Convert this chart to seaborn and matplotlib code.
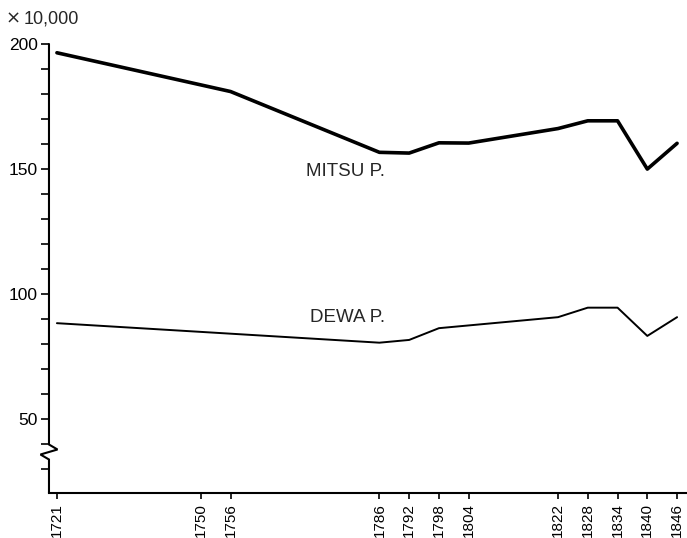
import matplotlib
matplotlib.use("Agg")
import matplotlib.pyplot as plt
import matplotlib.transforms as mtransforms
import pandas as pd
import seaborn as sns

# Population (units of 10,000 persons)
mitsu_years = [1721, 1756, 1786, 1792, 1798, 1804, 1822, 1828, 1834, 1840, 1846]
mitsu_pop = [196.5, 181.0, 156.7, 156.4, 160.5, 160.4, 166.2, 169.3, 169.3, 150.0, 160.3]

dewa_years = [1721, 1786, 1792, 1798, 1822, 1828, 1834, 1840, 1846]
dewa_pop = [88.4, 80.6, 81.7, 86.4, 90.8, 94.6, 94.6, 83.3, 90.8]

year_ticks = [1721, 1750, 1756, 1786, 1792, 1798, 1804, 1822, 1828, 1834, 1840, 1846]
major_yticks = [50, 100, 150, 200]
minor_yticks = [30, 40, 60, 70, 80, 90, 110, 120, 130, 140, 160, 170, 180, 190]

sns.set_style("ticks")
fonts = ["Liberation Sans Narrow", "Liberation Sans", "DejaVu Sans"]
plt.rcParams["font.family"] = fonts

mitsu = pd.DataFrame({"year": mitsu_years, "pop": mitsu_pop})
dewa = pd.DataFrame({"year": dewa_years, "pop": dewa_pop})

fig = plt.figure(figsize=(6.87, 5.38), dpi=100)
ax = fig.add_axes([0.0713, 0.0836, 0.9287, 0.8346])

sns.lineplot(data=mitsu, x="year", y="pop", ax=ax, color="black", linewidth=2.6)
sns.lineplot(data=dewa, x="year", y="pop", ax=ax, color="black", linewidth=1.4)

ax.set_xlim(1719.4, 1848.0)
ax.set_ylim(20.5, 200)

ax.set_xticks(year_ticks)
ax.set_xticklabels([str(y) for y in year_ticks], rotation=90, fontsize=11)
ax.set_yticks(major_yticks)
ax.set_yticklabels([str(v) for v in major_yticks], fontsize=12.5)
ax.set_yticks(minor_yticks, minor=True)

ax.tick_params(axis="x", direction="out", length=4, width=1.2, pad=3, colors="black")
ax.tick_params(axis="y", which="both", direction="out", length=5.5, width=1.2, pad=2.5,
               colors="black")
ax.set_xlabel("")
ax.set_ylabel("")

for side in ("top", "right", "left"):
    ax.spines[side].set_visible(False)
ax.spines["bottom"].set_linewidth(1.5)
ax.spines["bottom"].set_color("black")

# Left axis line with a break mark
blend = mtransforms.blended_transform_factory(ax.transAxes, ax.transData)
dx = 8.5 / 638
ax.plot([0, 0, dx, -dx, 0, 0], [200, 39.9, 37.9, 35.9, 33.9, 20.5],
        transform=blend, color="black", linewidth=1.5, clip_on=False,
        solid_joinstyle="miter")

ax.text(1771.2, 149.2, "MITSU P.", fontsize=13.5, family=["Liberation Sans", "DejaVu Sans"],
        ha="left", va="center")
ax.text(1772.1, 90.5, "DEWA P.", fontsize=13.5, family=["Liberation Sans", "DejaVu Sans"],
        ha="left", va="center")

fig.text(6 / 687, 1 - 18.5 / 538, "×", fontsize=13, family=["DejaVu Sans"],
         ha="left", va="center")
fig.text(24 / 687, 1 - 18.5 / 538, "10,000", fontsize=13, ha="left", va="center")

fig.savefig("out.png", dpi=100)
